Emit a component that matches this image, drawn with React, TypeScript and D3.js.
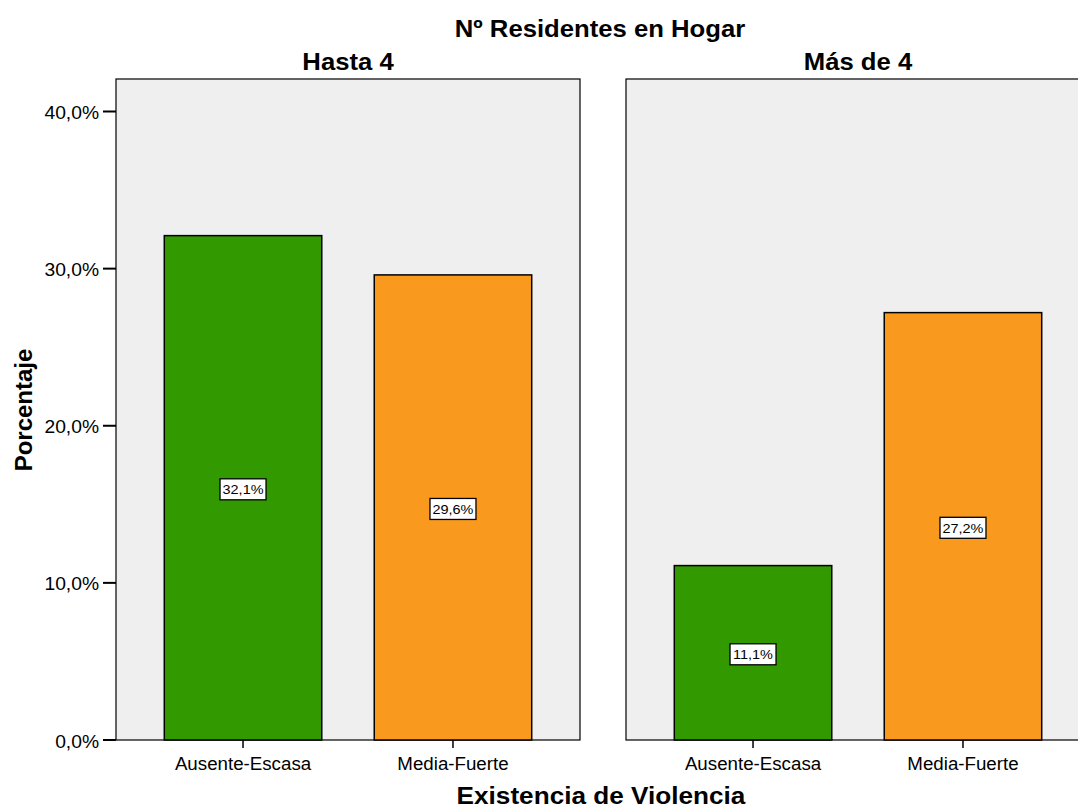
import React from "react";
import * as d3 from "d3";

const panels = ["Hasta 4", "Más de 4"];
const categories = ["Ausente-Escasa", "Media-Fuerte"];
const hastaValues = [32.1, 29.6];
const masValues = [11.1, 27.2];
const yTicks = [0, 10, 20, 30, 40];
const colors = ["#339900", "#f99a1f"];

const W = 1078;
const H = 808;
const panelLeft = [116, 626];
const panelW = 464;
const top = 79;
const bottom = 740;
const SX = 1.07;

const fmt = (v: number) => v.toFixed(1).replace(".", ",") + "%";

function T(props: {
  x: number;
  y: number;
  size: number;
  bold?: boolean;
  anchor?: string;
  rotate?: number;
  sx?: number;
  children: React.ReactNode;
}) {
  const { x, y, size, bold, anchor = "middle", rotate = 0, sx = SX, children } = props;
  const tr = rotate
    ? `translate(${x},${y}) rotate(${rotate}) scale(1,${sx})`
    : `translate(${x},${y}) scale(${sx},1)`;
  return (
    <text transform={tr} textAnchor={anchor} fontSize={size} fontWeight={bold ? "bold" : "normal"} fill="#000">
      {children}
    </text>
  );
}

export default function App() {
  const y = d3.scaleLinear().domain([0, 40]).range([bottom, 111.5]);
  const x = d3
    .scaleBand<string>()
    .domain(categories)
    .range([0, panelW])
    .paddingInner(0.25)
    .paddingOuter(0.23);
  const series = [hastaValues, masValues];
  const font = "Arial, 'Liberation Sans', sans-serif";

  return (
    <div style={{ position: "absolute", left: 0, top: 0 }}>
      <svg width={W} height={H} style={{ display: "block", overflow: "hidden" }} fontFamily={font}>
        <rect x={0} y={0} width={W} height={H} fill="#fff" />
        <T x={600} y={37} size={24} bold>
          Nº Residentes en Hogar
        </T>
        {panels.map((p, pi) => {
          const px = panelLeft[pi];
          return (
            <g key={p} transform={`translate(${px},0)`}>
              <T x={panelW / 2} y={70} size={24} bold>
                {p}
              </T>
              <rect x={0} y={top} width={panelW} height={bottom - top} fill="#efefef" stroke="#000" strokeWidth={1.2} />
              {categories.map((c, ci) => {
                const v = series[pi][ci];
                const bx = x(c)!;
                const bw = x.bandwidth();
                const cx = bx + bw / 2;
                const cy = (y(v) + y(0)) / 2 + 1.5;
                return (
                  <g key={c}>
                    <rect x={bx} y={y(v)} width={bw} height={y(0) - y(v)} fill={colors[ci]} stroke="#000" strokeWidth={1.5} />
                    <rect x={cx - 23} y={cy - 10.5} width={46} height={21} fill="#fff" stroke="#000" strokeWidth={1.3} />
                    <T x={cx} y={cy + 5} size={13.5}>
                      {fmt(v)}
                    </T>
                    <line x1={cx} x2={cx} y1={bottom} y2={bottom + 8} stroke="#000" strokeWidth={1.5} />
                    <T x={cx} y={770} size={17.5}>
                      {c}
                    </T>
                  </g>
                );
              })}
            </g>
          );
        })}
        {yTicks.map((t) => (
          <g key={t}>
            <line x1={103} x2={116} y1={y(t)} y2={y(t)} stroke="#000" strokeWidth={2} />
            <T x={99} y={y(t) + 7.5} size={18} anchor="end">
              {fmt(t)}
            </T>
          </g>
        ))}
        <T x={32} y={410} size={24} bold rotate={-90} sx={1}>
          Porcentaje
        </T>
        <T x={601} y={803.5} size={24} bold sx={1.09}>
          Existencia de Violencia
        </T>
      </svg>
    </div>
  );
}
